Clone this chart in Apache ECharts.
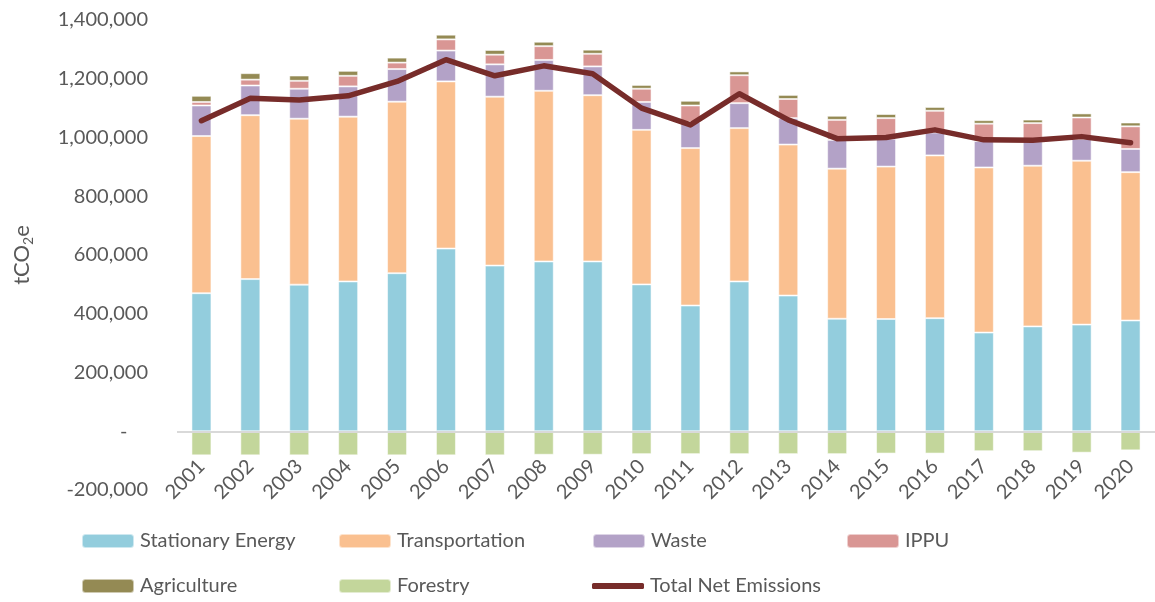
<!DOCTYPE html>
<html>
<head>
<meta charset="utf-8">
<title>Emissions by sector</title>
<script src="https://cdn.jsdelivr.net/npm/echarts@6/dist/echarts.min.js"></script>
<style>
  html, body { margin: 0; padding: 0; background: #fff; }
  #chart { width: 1155px; height: 602px; }
</style>
</head>
<body>
<div id="chart"></div>
<script>
var years = ['2001', '2002', '2003', '2004', '2005', '2006', '2007', '2008', '2009', '2010',
  '2011', '2012', '2013', '2014', '2015', '2016', '2017', '2018', '2019', '2020']

var stationaryEnergy = [470000, 518000, 499000, 510000, 538000, 622000, 564000, 578000, 578000, 500000,
  428000, 510000, 462000, 383000, 382000, 385000, 336000, 357000, 363000, 377000]
var transportation = [535000, 558000, 565000, 561000, 584000, 569000, 575000, 581000, 566000, 526000,
  536000, 522000, 514000, 511000, 519000, 554000, 562000, 547000, 558000, 505000]
var waste = [104000, 101000, 102000, 103000, 111000, 105000, 110000, 105000, 98000, 95000,
  89000, 85000, 90000, 98000, 95000, 78000, 90000, 83000, 74000, 79000]
var ippu = [12000, 20000, 27000, 36000, 22000, 38000, 33000, 47000, 43000, 45000,
  56000, 95000, 65000, 68000, 70000, 74000, 59000, 62000, 73000, 77000]
var agriculture = [21000, 22000, 18000, 17000, 17000, 16000, 16000, 15000, 14000, 13000,
  16000, 13000, 14000, 14000, 14000, 13000, 12000, 12000, 14000, 13000]
var forestry = [-82000, -82000, -82000, -82000, -82000, -82000, -82000, -80000, -80000, -78000,
  -78000, -78000, -78000, -78000, -76000, -76000, -68000, -68000, -73000, -65000]
var totalNet = [1057000, 1134000, 1128000, 1142000, 1191000, 1265000, 1210000, 1244000, 1217000, 1100000,
  1043000, 1149000, 1060000, 996000, 1000000, 1026000, 992000, 991000, 1003000, 982000]

var yTicks = { min: -200000, max: 1400000, interval: 200000 }

var fontName = 'Lato, "Open Sans", sans-serif'
var textColor = '#595959'
var lineColor = '#772C2A'

function barSeries(name, data, color) {
  return {
    name: name,
    type: 'bar',
    stack: 'total',
    barWidth: 20,
    data: data,
    itemStyle: {
      color: color,
      borderColor: 'rgba(255,255,255,0.55)',
      borderWidth: 1
    }
  }
}

// one legend per item so they sit on the same grid as the original
function legendAt(name, left, top, isLine) {
  var l = {
    data: [name],
    left: left,
    top: top,
    padding: 0,
    itemWidth: 52,
    itemHeight: 14,
    itemGap: 4,
    selectedMode: false,
    textStyle: {
      color: textColor,
      fontSize: 20,
      fontFamily: fontName,
      lineHeight: 20,
      padding: [0, 0, 0, 1]
    }
  }
  if (isLine) {
    l.data = [{ name: name, icon: 'roundRect' }]
    l.itemHeight = 6
    l.itemStyle = { color: lineColor, borderWidth: 0 }
  }
  return l
}

var chart = echarts.init(document.getElementById('chart'))

var forestrySeries = barSeries('Forestry', forestry, '#C3D69B')
forestrySeries.markLine = {
  silent: true,
  symbol: 'none',
  label: { show: false },
  lineStyle: { color: '#d9d9d9', type: 'solid', width: 2 },
  data: [{ yAxis: 0 }]
}

var option = {
  animation: false,
  textStyle: { fontFamily: fontName },
  grid: {
    left: 177,
    top: 20,
    width: 986,
    height: 470
  },
  legend: [
    legendAt('Stationary Energy', 81, 531),
    legendAt('Transportation', 338, 531),
    legendAt('Waste', 592, 531),
    legendAt('IPPU', 846, 531),
    legendAt('Agriculture', 81, 576),
    legendAt('Forestry', 338, 576),
    legendAt('Total Net Emissions', 592, 576, true)
  ],
  xAxis: {
    type: 'category',
    data: years,
    axisLine: { show: false, onZero: false },
    axisTick: { show: false },
    axisLabel: {
      rotate: 45,
      margin: -27,
      color: textColor,
      fontSize: 20,
      fontFamily: fontName
    }
  },
  yAxis: {
    type: 'value',
    min: yTicks.min,
    max: yTicks.max,
    interval: yTicks.interval,
    name: '{a|tCO}{b|2}{a|e}',
    nameLocation: 'middle',
    nameRotate: 90,
    nameGap: 142,
    nameTextStyle: {
      rich: {
        a: { fontSize: 22, color: textColor, fontFamily: fontName },
        b: { fontSize: 14, color: textColor, fontFamily: fontName, padding: [12, 0, 0, 0] }
      }
    },
    axisLine: { show: false },
    axisTick: { show: false },
    splitLine: { show: false },
    axisLabel: {
      margin: 29,
      color: textColor,
      fontSize: 20,
      fontFamily: fontName,
      formatter: function (v) {
        if (v === 0) return '-    '
        return v.toLocaleString('en-US')
      }
    }
  },
  series: [
    barSeries('Stationary Energy', stationaryEnergy, '#93CDDD'),
    barSeries('Transportation', transportation, '#FAC090'),
    barSeries('Waste', waste, '#B3A2C7'),
    barSeries('IPPU', ippu, '#D99694'),
    barSeries('Agriculture', agriculture, '#948A54'),
    forestrySeries,
    {
      name: 'Total Net Emissions',
      type: 'line',
      data: totalNet,
      symbol: 'none',
      z: 5,
      lineStyle: { color: lineColor, width: 5.5, cap: 'round', join: 'round' },
      itemStyle: { color: lineColor }
    }
  ]
}

chart.setOption(option)
</script>
</body>
</html>
